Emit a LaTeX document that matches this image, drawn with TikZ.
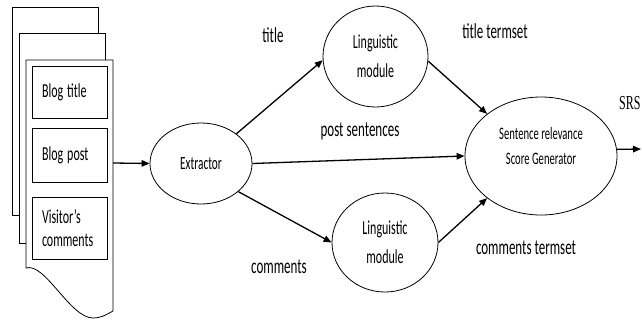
\documentclass[tikz,border=0pt]{standalone}
\usepackage{graphicx}
\usepackage{fontspec}
\setmainfont{Carlito}
\newfontfamily\srsfont{Liberation Serif}
\usetikzlibrary{shapes.geometric,arrows.meta}
\newcommand\tx[1]{\scalebox{1}[1.65]{#1}}
\begin{document}
\begin{tikzpicture}[x=1pt,y=-1pt,
  page/.style={draw,fill=white,line width=0.8pt},
  field/.style={draw,line width=0.8pt,rectangle,minimum width=75pt,text width=55pt,inner xsep=10pt,inner ysep=0pt,align=left,font=\fontsize{12}{23}\selectfont},
  proc/.style={draw,ellipse,line width=0.8pt,inner sep=0pt,align=center},
  conn/.style={line width=1.3pt,-{Triangle[length=8pt,width=6.5pt]}},
  lbl/.style={inner sep=0pt,font=\fontsize{13}{15}\selectfont}]
\useasboundingbox (0,0) rectangle (642,322);
% stacked documents
\draw[page] (12,7) rectangle (98,215);
\draw[page] (19,33) rectangle (105,243);
\draw[page] (26,60) -- (113,60) -- (113,311) .. controls (104,316) and (100,318) .. (93,318) .. controls (70,318) and (45,262) .. (26,268) -- cycle;
\coordinate (doc) at (113,163);
\node[field,minimum height=52pt] (bt) at (69.5,92) {\tx{Blog title}};
\node[field,minimum height=54pt] (bp) at (69.5,155) {\tx{Blog post}};
\node[field,minimum height=62pt] (vc) at (69.5,228) {\tx{Visitor's}\\\tx{comments}};
% processes
\node[proc,minimum width=102pt,minimum height=81pt,font=\fontsize{11.3}{13}\selectfont] (ex) at (201,163.5) {\tx{Extractor}};
\node[proc,minimum width=105pt,minimum height=101pt,font=\fontsize{12}{29}\selectfont] (lt) at (375.5,56.5) {\tx{Linguistic}\\\tx{module}};
\node[proc,minimum width=106pt,minimum height=99pt,font=\fontsize{12}{29}\selectfont] (lb) at (385,242.5) {\tx{Linguistic}\\\tx{module}};
\node[proc,minimum width=152pt,minimum height=118pt,text depth=20pt,font=\fontsize{10.6}{25}\selectfont] (srs) at (541,156) {\tx{Sentence relevance}\\\tx{Score Generator}};
% labels
\node[lbl] (tl) at (273,35) {\tx{title}};
\node[lbl] (tt) at (495,31) {\tx{title termset}};
\node[lbl] (ps) at (360,131) {\tx{post sentences}};
\node[lbl] (cm) at (279,267) {\tx{comments}};
\node[lbl] (ct) at (526,248) {\tx{comments termset}};
\node[inner sep=0pt,anchor=west,font=\srsfont\fontsize{12}{14}\selectfont] (out) at (619,103) {\tx{SRS}};
% connectors
\draw[conn] (doc) -- (ex.west);
\draw[conn] (ex.40) -- (lt.184);
\draw[conn] (ex.east) -- (srs.west);
\draw[conn] (ex.-37) -- (lb.west);
\draw[conn] (lt.-5) -- (srs.142);
\draw[conn] (lb.east) -- (srs.218);
\coordinate (end) at (641,149);
\draw[conn] (srs.5) -- (end);
\end{tikzpicture}
\end{document}
